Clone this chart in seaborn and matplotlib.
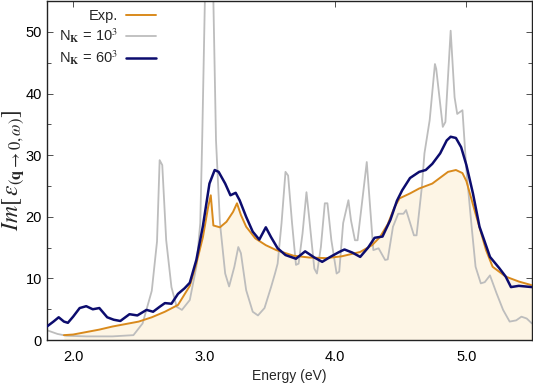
import numpy as np
import pandas as pd
import matplotlib
matplotlib.use("Agg")
import matplotlib.pyplot as plt
import seaborn as sns

# experimental spectrum
exp_e = [1.93, 2.0, 2.1, 2.2, 2.3, 2.4, 2.5, 2.6, 2.7, 2.8, 2.89, 2.94, 2.99, 3.03, 3.05,
         3.07, 3.12, 3.17, 3.22, 3.25, 3.28, 3.32, 3.39, 3.47, 3.55, 3.68, 3.8, 3.93, 4.05,
         4.19, 4.28, 4.34, 4.4, 4.45, 4.49, 4.57, 4.64, 4.74, 4.86, 4.92, 4.97, 5.0, 5.07,
         5.15, 5.2, 5.3, 5.4, 5.5]
exp_v = [0.8, 0.9, 1.3, 1.7, 2.2, 2.6, 3.0, 3.7, 4.6, 5.7, 8.8, 12.4, 16.7, 21.6, 23.5,
         18.6, 18.3, 19.2, 20.8, 22.2, 20.3, 18.4, 16.5, 15.4, 14.6, 13.7, 13.4, 13.3, 13.6,
         14.3, 15.4, 16.7, 18.8, 21.5, 23.0, 23.8, 24.6, 25.4, 27.3, 27.6, 27.1, 25.8, 20.5,
         14.6, 11.9, 10.3, 9.5, 8.9]

# N_K = 10^3
k10_e = [1.80, 1.88, 1.95, 2.1, 2.3, 2.46, 2.53, 2.60, 2.64, 2.66, 2.68, 2.71, 2.75, 2.79,
         2.83, 2.89, 2.94, 2.97, 2.985, 3.005, 3.04, 3.07, 3.09, 3.12, 3.16, 3.19, 3.23, 3.26,
         3.28, 3.32, 3.37, 3.41, 3.46, 3.51, 3.54, 3.56, 3.59, 3.62, 3.64, 3.67, 3.70, 3.72,
         3.75, 3.78, 3.80, 3.84, 3.86, 3.89, 3.92, 3.94, 3.97, 4.01, 4.03, 4.06, 4.10, 4.12,
         4.15, 4.17, 4.20, 4.24, 4.26, 4.29, 4.33, 4.38, 4.40, 4.44, 4.48, 4.52, 4.54, 4.60,
         4.62, 4.66, 4.68, 4.72, 4.76, 4.77, 4.82, 4.84, 4.88, 4.91, 4.93, 4.97, 5.00, 5.04,
         5.07, 5.11, 5.14, 5.18, 5.23, 5.28, 5.33, 5.38, 5.42, 5.46, 5.50]
k10_v = [1.6, 1.0, 0.7, 0.6, 0.6, 0.8, 2.7, 8.0, 16.0, 29.2, 28.4, 16.2, 8.6, 5.4,
         4.9, 6.5, 11.9, 19.0, 33.0, 55.0, 80.0, 55.0, 32.4, 19.0, 10.8, 8.7, 11.9, 15.1,
         14.1, 8.1, 4.6, 4.0, 5.2, 8.6, 10.8, 12.4, 19.0, 27.3, 26.7, 19.0, 12.2, 12.4,
         17.3, 24.0, 20.0, 11.6, 10.8, 15.1, 22.2, 22.2, 16.2, 10.8, 11.1, 19.0, 22.7, 19.4,
         16.2, 16.2, 21.6, 28.9, 23.2, 14.6, 14.9, 13.0, 13.1, 18.4, 20.5, 20.5, 21.1, 17.0,
         17.0, 24.8, 30.3, 35.7, 44.8, 44.0, 34.6, 35.4, 50.2, 39.4, 36.7, 37.3, 27.6, 18.4,
         11.9, 9.2, 9.4, 10.5, 7.6, 4.9, 3.0, 3.2, 3.8, 3.5, 2.7]

# N_K = 60^3
k60_e = [1.80, 1.85, 1.89, 1.93, 1.96, 2.00, 2.05, 2.10, 2.15, 2.20, 2.26, 2.31, 2.36, 2.43,
         2.49, 2.56, 2.61, 2.66, 2.70, 2.75, 2.80, 2.85, 2.89, 2.94, 2.99, 3.04, 3.08, 3.11,
         3.16, 3.20, 3.24, 3.27, 3.32, 3.37, 3.42, 3.47, 3.51, 3.56, 3.62, 3.70, 3.77, 3.84,
         3.90, 3.97, 4.03, 4.07, 4.13, 4.19, 4.25, 4.30, 4.36, 4.42, 4.47, 4.51, 4.57, 4.64,
         4.69, 4.74, 4.80, 4.85, 4.88, 4.92, 4.96, 5.00, 5.05, 5.10, 5.18, 5.25, 5.30, 5.34,
         5.40, 5.50]
k60_v = [2.2, 3.0, 3.7, 3.0, 2.8, 3.8, 5.2, 5.5, 5.0, 5.2, 3.7, 3.3, 3.1, 4.2,
         4.0, 4.9, 4.6, 5.4, 6.0, 5.9, 7.5, 8.4, 9.3, 13.0, 18.5, 25.4, 27.6, 27.3,
         25.4, 23.5, 23.9, 22.7, 20.0, 17.6, 16.3, 18.3, 16.7, 14.9, 13.8, 13.2, 14.4, 13.4,
         12.7, 13.6, 14.3, 14.7, 14.2, 13.5, 15.0, 16.6, 16.8, 19.5, 22.6, 24.3, 26.3, 27.3,
         27.6, 28.6, 30.3, 32.4, 33.0, 32.8, 31.3, 28.4, 23.8, 18.4, 13.5, 11.7, 10.3, 8.6,
         8.8, 8.6]

sns.set_theme(style="ticks")
plt.rcParams['font.family'] = ['Liberation Sans', 'DejaVu Sans']
plt.rcParams['mathtext.fontset'] = 'stix'

fig = plt.figure(figsize=(5.33, 3.9), dpi=100)
ax = fig.add_axes([0.088, 0.128, 0.91, 0.869])

ax.fill_between(exp_e, exp_v, 0, color='#fdf5e5', lw=0, zorder=1)
sns.lineplot(x=exp_e, y=exp_v, ax=ax, color='#d98a1c', lw=1.4, label='Exp.', zorder=3)
sns.lineplot(x=k10_e, y=k10_v, ax=ax, color='#bdbdbd', lw=1.3,
             label=r'N$_{\mathbf{K}}$ = 10$^3$', zorder=2)
sns.lineplot(x=k60_e, y=k60_v, ax=ax, color='#0c0c6e', lw=1.8,
             label=r'N$_{\mathbf{K}}$ = 60$^3$', zorder=4)

ax.set_xlim(1.8, 5.5)
ax.set_ylim(0, 55)
ax.set_xticks([2, 3, 4, 5])
ax.set_xticklabels(['2.0', '3.0', '4.0', '5.0'])
ax.set_yticks([0, 10, 20, 30, 40, 50])
ax.set_yticks(np.arange(5, 55, 10), minor=True)
ax.tick_params(direction='in', which='both', top=True, right=True,
               labelsize=10.5, labelcolor='black', color='#333333', length=4, width=0.6)
ax.tick_params(which='minor', length=3)
ax.tick_params(axis='x', pad=7)
for s in ax.spines.values():
    s.set_color('#222222')
    s.set_linewidth(1.0)

ax.set_xlabel('Energy (eV)', fontsize=10, labelpad=4)
ax.set_ylabel(r'$Im\left[\,\varepsilon_{(\mathbf{q}\rightarrow 0,\omega)}\right]$',
              fontsize=17, labelpad=0)

ax.legend(loc='upper left', bbox_to_anchor=(0.0, 1.01), frameon=False, markerfirst=False,
          fontsize=10.5, handlelength=2.0, handletextpad=0.6, labelspacing=0.22,
          borderaxespad=0.4)
leg = ax.get_legend()
for t in leg.get_texts():
    t.set_ha('right')
leg._legend_box.align = 'right'

fig.savefig('out.png', dpi=100)
